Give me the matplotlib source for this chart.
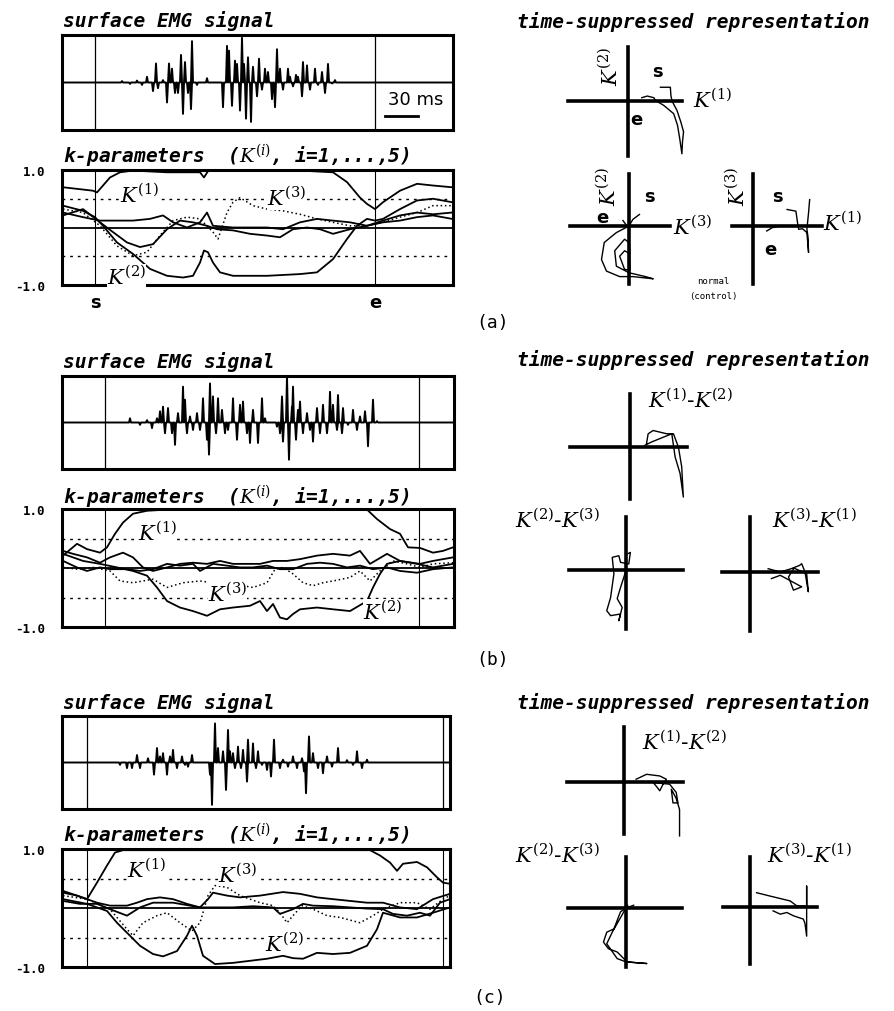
import numpy as np
import matplotlib.pyplot as plt

plt.rcParams['mathtext.fontset'] = 'dejavuserif'

W, H = 895, 1012

# ---------------- data ----------------
# EMG spikes: sample index (1 sample ~ 0.91 ms) and relative amplitude
emg_a_t = [60, 68, 75, 80, 85, 91, 94, 96, 101, 105, 107, 110, 113, 116, 119, 121, 123, 126, 129, 130,
           135, 145, 161, 165, 167, 170, 173, 175, 178, 180, 182, 184, 186, 189, 191, 195, 197, 200, 203, 206,
           210, 213, 215, 218, 221, 226, 228, 231, 234, 236, 240, 241, 245, 248, 253, 256, 260, 263, 266, 270, 273]
emg_a_amp = [0.03, -0.03, 0.04, -0.05, 0.12, -0.18, 0.4, -0.12, 0.05, -0.42, 0.4, 0.29, -0.22, -0.22, 0.58,
             -0.66, 0.43, -0.22, -0.56, 0.87, -0.05, 0.09, -0.52, 0.77, 0.67, -0.49, 0.46, 0.39, -0.59, 0.94,
             0.39, -0.76, 0.53, -0.83, 0.33, -0.29, 0.5, -0.15, 0.29, 0.22, -0.35, -0.52, 0.7, 0.29, -0.15,
             0.29, 0.12, -0.08, 0.16, 0.12, -0.29, 0.43, 0.36, -0.15, 0.29, -0.05, 0.22, -0.22, 0.39, -0.02, 0.05]

emg_b_t = [68, 78, 85, 90, 95, 98, 101, 103, 106, 110, 113, 116, 121, 123, 125, 128, 131, 135, 138, 141,
           145, 147, 148, 151, 154, 156, 160, 163, 166, 171, 175, 178, 181, 185, 188, 191, 196, 200, 203, 215,
           218, 220, 221, 225, 227, 230, 231, 234, 236, 238, 241, 245, 248, 251, 255, 258, 261, 265, 268, 271,
           275, 276, 280, 281, 286, 291, 295, 298, 303, 306, 311, 315]
emg_b_amp = [0.09, -0.05, 0.05, -0.12, 0.09, 0.24, 0.34, -0.23, 0.31, -0.23, -0.48, 0.2, 0.77, 0.49, -0.23,
             0.13, -0.16, 0.2, -0.16, 0.52, -0.37, -0.69, 0.84, 0.56, -0.23, 0.52, 0.27, -0.23, -0.16, 0.52,
             -0.37, 0.38, 0.45, -0.23, -0.44, 0.27, -0.44, 0.52, 0.09, -0.09, -0.23, 0.56, -0.41, 0.99, -0.8,
             0.34, 0.77, -0.37, 0.27, 0.45, -0.23, 0.2, -0.16, -0.41, 0.31, -0.23, 0.38, -0.23, 0.66, 0.38,
             -0.16, 0.59, -0.23, 0.31, -0.05, 0.27, -0.16, 0.13, 0.24, -0.51, 0.49, 0.03]

emg_c_t = [58, 65, 70, 75, 78, 86, 92, 95, 98, 101, 105, 108, 111, 115, 120, 123, 126, 130, 148, 150,
           153, 156, 161, 164, 166, 168, 171, 173, 176, 179, 181, 185, 186, 191, 194, 196, 200, 205, 209, 212,
           218, 221, 226, 231, 235, 240, 242, 244, 247, 251, 256, 261, 265, 270, 276, 285, 291, 295, 300, 305]
emg_c_amp = [-0.05, -0.12, -0.12, 0.16, -0.12, 0.09, -0.26, 0.31, 0.13, 0.2, -0.26, 0.13, 0.27, -0.12, 0.13,
             -0.05, -0.09, 0.16, -0.26, -0.91, 0.84, 0.31, 0.24, -0.59, 0.7, 0.24, 0.2, -0.12, 0.34, -0.12,
             0.27, -0.41, 0.49, 0.41, -0.12, 0.24, -0.05, -0.16, -0.3, 0.49, -0.12, 0.06, -0.09, 0.13, -0.12,
             0.09, -0.19, -0.66, 0.56, 0.2, -0.12, -0.23, 0.13, -0.09, 0.31, 0.05, -0.05, 0.24, -0.12, 0.06]

# k-parameters, case (a)
k1_a_x = [1, 31, 35, 48, 58, 71, 105, 138, 142, 146, 171, 205, 238, 271, 285, 298, 305, 313, 321, 338, 355, 371, 390]
k1_a = [0.70, 0.64, 0.61, 0.87, 0.96, 0.99, 0.96, 0.96, 0.87, 0.98, 0.99, 0.99, 0.99, 0.96, 0.79, 0.52, 0.41,
        0.32, 0.44, 0.64, 0.76, 0.73, 0.70]
k2_a_x = [1, 21, 33, 41, 55, 71, 88, 105, 121, 131, 138, 142, 146, 151, 158, 171, 205, 238, 255, 271, 285,
          295, 305, 313, 321, 338, 355, 371, 390]
k2_a = [0.38, 0.29, 0.18, 0.03, -0.26, -0.46, -0.72, -0.84, -0.87, -0.84, -0.61, -0.40, -0.43, -0.61, -0.78,
        -0.84, -0.84, -0.81, -0.78, -0.55, -0.2, 0.03, 0.15, 0.12, 0.15, 0.32, 0.47, 0.50, 0.44]
k3_a_x = [1, 21, 38, 55, 71, 85, 98, 111, 125, 138, 151, 156, 165, 171, 178, 191, 205, 221, 238, 255, 271,
          288, 305, 321, 338, 355, 371, 390]
k3_a = [0.32, 0.26, 0.03, -0.32, -0.49, -0.43, -0.14, 0.12, 0.18, 0.15, -0.08, -0.2, 0.26, 0.44, 0.52, 0.38,
        0.32, 0.29, 0.23, 0.15, 0.09, 0.03, 0.03, 0.09, 0.18, 0.26, 0.38, 0.38]
k4_a_x = [1, 21, 38, 71, 88, 101, 111, 125, 138, 145, 151, 171, 205, 221, 238, 255, 271, 288, 305, 321, 338,
          355, 371, 390]
k4_a = [0.26, 0.18, 0.12, 0.12, 0.15, 0.21, 0.09, 0.0, 0.09, 0.26, 0.03, 0.0, 0.0, -0.03, 0.09, 0.15, 0.12,
        0.09, 0.03, 0.12, 0.21, 0.26, 0.23, 0.26]
k5_a_x = [1, 21, 38, 51, 65, 78, 91, 105, 118, 131, 145, 155, 171, 188, 205, 218, 231, 245, 258, 271, 288,
          305, 321, 338, 355, 371, 390]
k5_a = [0.21, 0.32, 0.09, -0.08, -0.26, -0.34, -0.29, -0.03, 0.12, 0.09, 0.03, -0.03, -0.05, -0.11, -0.14,
        -0.17, -0.03, 0.0, -0.03, -0.11, -0.03, 0.03, 0.09, 0.12, 0.18, 0.21, 0.15]

# k-parameters, case (b)
k1_b_x = [1, 15, 25, 38, 45, 53, 61, 71, 85, 105, 138, 205, 271, 305, 315, 328, 338, 346, 358, 371, 381, 391]
k1_b = [0.21, 0.41, 0.32, 0.26, 0.35, 0.58, 0.77, 0.92, 0.97, 0.99, 0.99, 0.99, 1.0, 0.99, 0.83, 0.66, 0.58,
        0.35, 0.34, 0.26, 0.29, 0.35]
k2_b_x = [1, 21, 38, 55, 71, 85, 95, 105, 118, 131, 145, 158, 171, 188, 198, 205, 211, 218, 225, 231, 238,
          255, 271, 288, 305, 311, 318, 325, 338, 355, 371, 391]
k2_b = [0.24, 0.12, 0.07, 0.01, -0.05, -0.13, -0.33, -0.56, -0.67, -0.73, -0.81, -0.70, -0.67, -0.64, -0.56,
        -0.73, -0.61, -0.84, -0.87, -0.78, -0.70, -0.67, -0.70, -0.73, -0.56, -0.33, -0.10, 0.07, 0.12, 0.07,
        0.01, 0.07]
k3_b_x = [1, 15, 31, 48, 58, 71, 81, 91, 105, 121, 138, 151, 171, 191, 205, 213, 221, 231, 241, 251, 261,
          271, 288, 298, 308, 318, 331, 345, 358, 371, 391]
k3_b = [0.01, -0.02, 0.01, -0.05, -0.22, -0.25, -0.22, -0.19, -0.33, -0.25, -0.22, -0.25, -0.27, -0.33,
        -0.25, -0.02, 0.01, -0.10, -0.25, -0.30, -0.25, -0.22, -0.16, -0.05, -0.22, -0.05, 0.12, 0.07, 0.01,
        0.07, 0.09]
k4_b_x = [1, 11, 25, 38, 48, 61, 71, 81, 91, 105, 118, 131, 145, 158, 171, 185, 198, 211, 225, 238, 255,
          271, 288, 298, 308, 325, 338, 358, 371, 391]
k4_b = [0.29, 0.24, 0.18, 0.09, 0.18, 0.26, 0.18, 0.01, -0.05, 0.01, 0.07, 0.09, 0.07, 0.12, 0.07, 0.07,
        0.07, 0.12, 0.12, 0.15, 0.21, 0.24, 0.21, 0.29, 0.07, 0.24, 0.12, 0.07, 0.12, 0.18]
k5_b_x = [1, 15, 25, 38, 48, 65, 78, 91, 105, 118, 131, 138, 151, 165, 178, 191, 205, 218, 231, 245, 258,
          271, 285, 298, 311, 325, 338, 355, 371, 391]
k5_b = [0.12, 0.01, -0.05, 0.01, -0.02, -0.02, -0.05, -0.02, 0.07, 0.04, 0.07, -0.05, 0.07, 0.04, 0.01,
        0.01, 0.04, -0.02, -0.02, 0.07, 0.09, 0.07, 0.01, 0.04, -0.02, 0.01, -0.05, -0.08, -0.02, 0.01]

# k-parameters, case (c)
k1_c_x = [1, 15, 25, 35, 45, 53, 61, 105, 205, 271, 308, 318, 328, 335, 341, 355, 365, 375, 381, 388]
k1_c = [0.26, 0.21, 0.15, 0.43, 0.72, 0.94, 0.98, 0.98, 0.98, 0.98, 0.98, 0.89, 0.77, 0.63, 0.75, 0.78,
        0.69, 0.52, 0.43, 0.41]
k2_c_x = [1, 25, 45, 55, 65, 78, 91, 101, 115, 125, 130, 135, 141, 153, 171, 205, 221, 231, 241, 255, 271,
          288, 305, 315, 321, 338, 355, 371, 388]
k2_c = [0.15, 0.07, -0.05, -0.25, -0.42, -0.64, -0.78, -0.82, -0.73, -0.47, -0.30, -0.47, -0.81, -0.95,
        -0.93, -0.86, -0.81, -0.85, -0.86, -0.76, -0.78, -0.76, -0.64, -0.36, -0.08, -0.16, -0.16, -0.08, 0.01]
k3_c_x = [1, 25, 48, 65, 71, 81, 95, 105, 118, 130, 138, 146, 153, 165, 178, 198, 211, 218, 225, 231, 240,
          251, 265, 278, 298, 311, 321, 338, 355, 368, 381, 388]
k3_c = [0.21, 0.15, -0.02, -0.36, -0.47, -0.25, -0.13, -0.08, -0.25, -0.39, -0.25, 0.21, 0.38, 0.35, 0.21,
        0.09, 0.04, -0.08, -0.25, -0.13, 0.04, -0.02, -0.13, -0.16, -0.25, -0.13, -0.02, 0.09, 0.09, -0.02,
        0.15, 0.21]
k4_c_x = [1, 15, 25, 35, 48, 65, 75, 85, 98, 111, 125, 138, 146, 151, 165, 178, 198, 221, 238, 255, 271,
          288, 305, 321, 338, 355, 371, 388]
k4_c = [0.29, 0.21, 0.15, 0.09, 0.04, 0.04, 0.09, 0.15, 0.18, 0.15, 0.07, 0.01, 0.15, 0.26, 0.21, 0.18,
        0.21, 0.27, 0.24, 0.18, 0.15, 0.12, 0.09, 0.09, 0.01, -0.02, 0.15, 0.24]
k5_c_x = [1, 18, 35, 48, 65, 78, 91, 111, 128, 138, 151, 171, 191, 211, 218, 231, 241, 251, 271, 288, 305,
          321, 331, 345, 358, 368, 378, 388]
k5_c = [0.12, 0.07, 0.07, -0.02, -0.13, 0.01, 0.09, 0.09, 0.04, 0.01, 0.01, 0.01, 0.03, 0.01, -0.10, -0.02,
        0.07, 0.04, 0.03, 0.01, -0.01, -0.02, -0.10, -0.13, -0.08, -0.13, 0.09, 0.15]

# time-suppressed trajectories (horizontal, vertical)
ph_a12_x = [0.59, 0.77, 0.78, 0.80, 0.89, 0.96, 1.01, 0.99, 0.98, 0.94, 0.90, 0.83, 0.65, 0.50, 0.47, 0.35, 0.25]
ph_a12_y = [0.25, 0.25, 0.10, 0.0, -0.17, -0.38, -0.56, -0.75, -0.96, -0.68, -0.44, -0.23, -0.08, 0.01, 0.06, 0.09, 0.06]
ph_a32_x = [0.19, 0.07, 0.0, -0.23, -0.45, -0.5, -0.41, -0.17, 0.07, 0.44, 0.3, 0.0, -0.23, -0.26, -0.08, 0.0,
            0.01, -0.08, -0.17, -0.08, 0.02, 0.0, -0.11]
ph_a32_y = [0.21, 0.12, 0.0, -0.12, -0.3, -0.61, -0.82, -0.92, -0.92, -0.96, -0.92, -0.85, -0.73, -0.45, -0.24,
            -0.3, -0.5, -0.45, -0.55, -0.79, -0.8, -0.05, 0.1]
ph_a13_x = [0.62, 0.78, 0.81, 0.83, 0.9, 0.98, 1.01, 1.0, 0.98, 1.01, 1.03]
ph_a13_y = [0.30, 0.27, 0.06, -0.06, -0.05, -0.12, -0.48, -0.2, -0.06, 0.24, 0.48]
ph_a13e_x = [0.25, 0.35, 0.5]
ph_a13e_y = [-0.09, -0.03, 0.0]

ph_b12_x = [0.27, 0.39, 0.61, 0.76, 0.82, 0.91, 0.97, 0.94, 0.88, 0.79, 0.67, 0.42, 0.33, 0.30]
ph_b12_y = [0.03, 0.09, 0.18, 0.24, -0.18, -0.48, -0.91, -0.36, 0.0, 0.24, 0.24, 0.30, 0.24, 0.06]
ph_b23_x = [0.02, 0.08, 0.05, -0.1, -0.13, -0.25, -0.22, -0.28, -0.35, -0.28, -0.1, -0.13, -0.07, -0.16, -0.1, -0.01]
ph_b23_y = [0.29, 0.32, 0.11, 0.14, 0.26, 0.23, -0.07, -0.5, -0.74, -0.83, -0.8, -0.92, -0.68, -0.52, -0.32, -0.04]
ph_b31_x = [0.33, 0.55, 0.75, 0.9, 0.94, 1.0, 1.06, 1.03, 0.8, 0.7, 0.79, 0.94, 0.55, 0.39]
ph_b31_y = [0.06, 0.0, 0.06, 0.12, 0.15, 0.0, -0.36, -0.03, 0.07, -0.09, -0.33, -0.27, -0.06, -0.12]

ph_c12_x = [0.22, 0.41, 0.65, 0.77, 0.71, 0.65, 0.59, 0.53, 0.83, 0.95, 0.98, 0.89, 0.86, 0.95, 1.01, 1.01]
ph_c12_y = [0.05, 0.14, 0.11, 0.05, -0.04, -0.16, -0.08, -0.01, -0.04, -0.19, -0.38, -0.38, -0.13, -0.3, -0.5, -0.98]
ph_c23_x = [0.14, 0.0, -0.1, -0.22, -0.35, -0.41, -0.32, -0.16, 0.02, 0.38, 0.0, -0.16, -0.35, -0.25, -0.04, 0.03]
ph_c23_y = [0.05, 0.0, -0.07, -0.38, -0.44, -0.62, -0.74, -0.8, -0.98, -1.01, -0.98, -0.92, -0.65, -0.44, -0.07, 0.05]
ph_c31_x = [0.12, 0.36, 0.73, 0.85, 1.03, 1.03, 1.03, 1.0, 0.97, 0.79, 0.67, 0.55, 0.42]
ph_c31_y = [0.26, 0.2, 0.11, 0.02, 0.02, 0.38, -0.53, -0.3, -0.22, -0.16, -0.1, -0.13, -0.07]

# ---------------- drawing ----------------
fig = plt.figure(figsize=(W / 100, H / 100), dpi=100)

mono = 'DejaVu Sans Mono'
title_kw = dict(family=mono, style='italic', weight='bold', size=14, va='center')


def rect(x0, y0, x1, y1):
    return [x0 / W, 1 - y1 / H, (x1 - x0) / W, (y1 - y0) / H]


def ftext(x, y, s, **kw):
    fig.text(x / W, 1 - y / H, s, **kw)


def box_style(ax, width):
    ax.set_xlim(0, width)
    ax.set_ylim(-1, 1)
    ax.set_xticks([])
    for sp in ax.spines.values():
        sp.set_linewidth(2.2)


def emg_panel(box, t, amp, s_mark, e_mark):
    width = box[2] - box[0]
    ax = fig.add_axes(rect(*box))
    xs, ys = [0], [0]
    for ti, ai in zip(t, amp):
        xs += [ti - 1.0, ti, ti + 1.0]
        ys += [0, ai, 0]
    xs.append(width)
    ys.append(0)
    ax.plot(xs, ys, color='k', lw=1.4)
    ax.axvline(s_mark, color='k', lw=0.9)
    ax.axvline(e_mark, color='k', lw=0.9)
    box_style(ax, width)
    ax.set_yticks([])
    return ax


def k_panel(box, curves, s_mark, e_mark):
    width = box[2] - box[0]
    ax = fig.add_axes(rect(*box))
    ax.axhline(0, color='k', lw=1.3)
    ax.axhline(0.5, color='k', lw=1, ls=(0, (2, 3.5)))
    ax.axhline(-0.5, color='k', lw=1, ls=(0, (2, 3.5)))
    ax.axvline(s_mark, color='k', lw=0.8)
    ax.axvline(e_mark, color='k', lw=0.8)
    for i, (x, v) in enumerate(curves):
        if i == 2:
            ax.plot(x, v, color='k', lw=1.1, ls=(0, (1, 1.8)))
        else:
            ax.plot(x, v, color='k', lw=1.3)
    box_style(ax, width)
    ax.set_yticks([-1, 1])
    ax.set_yticklabels(['-1.0', '1.0'], family=mono, weight='bold', size=9)
    ax.tick_params(axis='y', length=0, pad=12)
    return ax


def k_label(ax, x, v, s):
    ax.text(x, v, s, size=15, va='center', ha='left', zorder=5,
            bbox=dict(fc='white', ec='none', pad=0.3))


def phase(cx, cy, left, right, up, down, xs, ys, scale=55.0):
    half = 80
    ax = fig.add_axes(rect(cx - half, cy - half, cx + half, cy + half))
    ax.patch.set_visible(False)
    lim = half / scale
    ax.plot(xs, ys, color='k', lw=1.0)
    ax.set_xlim(-lim, lim)
    ax.set_ylim(-lim, lim)
    ax.spines['top'].set_visible(False)
    ax.spines['right'].set_visible(False)
    ax.spines['left'].set_position('zero')
    ax.spines['bottom'].set_position('zero')
    ax.spines['bottom'].set_bounds(-left / scale, right / scale)
    ax.spines['left'].set_bounds(-down / scale, up / scale)
    for sp in ('left', 'bottom'):
        ax.spines[sp].set_linewidth(2.6)
    ax.set_xticks([])
    ax.set_yticks([])
    return ax


plabel = dict(size=15, va='center')
letter = dict(family='DejaVu Sans', weight='bold', size=13, va='center', ha='center')

# ===== (a) normal =====
ftext(63, 21, 'surface EMG signal', **title_kw)
ax = emg_panel((62, 36, 453, 131), emg_a_t, emg_a_amp, 33, 313)
ax.plot([323, 356], [-0.7, -0.7], color='k', lw=2)
ax.text(326, -0.35, '30 ms', family='DejaVu Sans', size=13, va='center', ha='left')
ftext(63, 156, r'k-parameters  ($K^{(i)}$, i=1,...,5)', **title_kw)
ax = k_panel((62, 171, 453, 286), [(k1_a_x, k1_a), (k2_a_x, k2_a), (k3_a_x, k3_a), (k4_a_x, k4_a),
                                   (k5_a_x, k5_a)], 33, 313)
k_label(ax, 58, 0.58, r'$K^{(1)}$')
k_label(ax, 205, 0.52, r'$K^{(3)}$')
k_label(ax, 45, -0.85, r'$K^{(2)}$')
ax.text(33, -1.3, 's', **letter)
ax.text(313, -1.3, 'e', **letter)
ftext(493, 323, '(a)', family=mono, size=13, ha='center', va='center')

ftext(517, 22, 'time-suppressed representation', **title_kw)
ax = phase(628, 102, 60, 54, 54, 55, ph_a12_x, ph_a12_y)
ax.text(-0.33, 0.64, r'$K^{(2)}$', rotation=90, ha='center', **plabel)
ax.text(1.18, 0.04, r'$K^{(1)}$', ha='left', **plabel)
ax.text(0.53, 0.55, 's', **letter)
ax.text(0.16, -0.33, 'e', **letter)
ax = phase(629, 227, 59, 41, 52, 58, ph_a32_x, ph_a32_y)
ax.text(-0.38, 0.73, r'$K^{(2)}$', rotation=90, ha='center', **plabel)
ax.text(0.8, 0.0, r'$K^{(3)}$', ha='left', **plabel)
ax.text(0.38, 0.55, 's', **letter)
ax.text(-0.49, 0.16, 'e', **letter)
ax = phase(753, 227, 21, 69, 52, 58, ph_a13_x, ph_a13_y)
ax.plot(ph_a13e_x, ph_a13e_y, color='k', lw=1.0)
ax.text(-0.29, 0.73, r'$K^{(3)}$', rotation=90, ha='center', **plabel)
ax.text(1.27, 0.07, r'$K^{(1)}$', ha='left', **plabel)
ax.text(0.44, 0.55, 's', **letter)
ax.text(0.31, -0.42, 'e', **letter)
ftext(713, 281, 'normal', family=mono, size=6.5, ha='center', va='center')
ftext(713, 296, '(control)', family=mono, size=6.5, ha='center', va='center')

# ===== (b) =====
ftext(63, 362, 'surface EMG signal', **title_kw)
emg_panel((62, 377, 454, 470), emg_b_t, emg_b_amp, 43, 357)
ftext(63, 497, r'k-parameters  ($K^{(i)}$, i=1,...,5)', **title_kw)
ax = k_panel((62, 510, 454, 628), [(k1_b_x, k1_b), (k2_b_x, k2_b), (k3_b_x, k3_b), (k4_b_x, k4_b),
                                   (k5_b_x, k5_b)], 43, 357)
k_label(ax, 76, 0.6, r'$K^{(1)}$')
k_label(ax, 146, -0.42, r'$K^{(3)}$')
k_label(ax, 301, -0.73, r'$K^{(2)}$')
ftext(493, 660, '(b)', family=mono, size=13, ha='center', va='center')

ftext(517, 360, 'time-suppressed representation', **title_kw)
ax = phase(630, 448, 60, 57, 53, 52, ph_b12_x, ph_b12_y)
ax.text(0.33, 0.87, r'$K^{(1)}$-$K^{(2)}$', ha='left', **plabel)
ax = phase(626, 571, 57, 57, 53, 59, ph_b23_x, ph_b23_y)
ax.text(-2.02, 0.93, r'$K^{(2)}$-$K^{(3)}$', ha='left', **plabel)
ax = phase(750, 573, 28, 68, 55, 59, ph_b31_x, ph_b31_y)
ax.text(0.4, 0.96, r'$K^{(3)}$-$K^{(1)}$', ha='left', **plabel)

# ===== (c) =====
ftext(63, 703, 'surface EMG signal', **title_kw)
emg_panel((62, 717, 450, 810), emg_c_t, emg_c_amp, 25, 381)
ftext(63, 835, r'k-parameters  ($K^{(i)}$, i=1,...,5)', **title_kw)
ax = k_panel((62, 850, 450, 968), [(k1_c_x, k1_c), (k2_c_x, k2_c), (k3_c_x, k3_c), (k4_c_x, k4_c),
                                   (k5_c_x, k5_c)], 25, 381)
k_label(ax, 65, 0.66, r'$K^{(1)}$')
k_label(ax, 156, 0.57, r'$K^{(3)}$')
k_label(ax, 203, -0.59, r'$K^{(2)}$')
ftext(490, 998, '(c)', family=mono, size=13, ha='center', va='center')

ftext(517, 703, 'time-suppressed representation', **title_kw)
ax = phase(624, 783, 57, 59, 55, 52, ph_c12_x, ph_c12_y)
ax.text(0.33, 0.75, r'$K^{(1)}$-$K^{(2)}$', ha='left', **plabel)
ax = phase(626, 909, 58, 56, 51, 59, ph_c23_x, ph_c23_y)
ax.text(-2.02, 0.98, r'$K^{(2)}$-$K^{(3)}$', ha='left', **plabel)
ax = phase(750, 908, 27, 67, 50, 57, ph_c31_x, ph_c31_y)
ax.text(0.31, 0.96, r'$K^{(3)}$-$K^{(1)}$', ha='left', **plabel)

fig.savefig('out.png', dpi=100)
